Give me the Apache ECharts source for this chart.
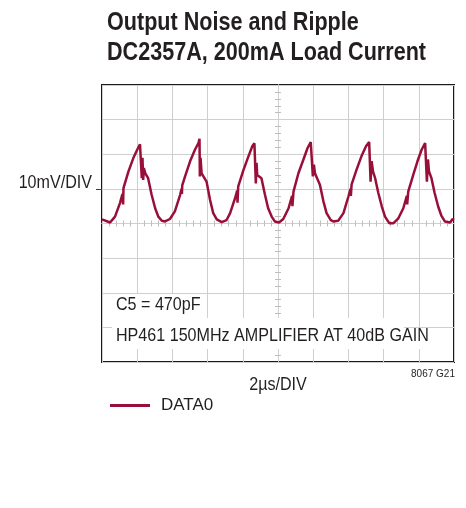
<!DOCTYPE html>
<html>
<head>
<meta charset="utf-8">
<script src="https://cdn.jsdelivr.net/npm/echarts@6/dist/echarts.min.js"></script>
<style>
html,body{margin:0;padding:0;background:#fff;}
#chart{width:466px;height:508px;}
</style>
</head>
<body>
<div id="chart"></div>
<script>
// time relative to screen centre, microseconds (2 µs/div)
var timeUs = [
  -10, -9.92, -9.54, -9.26, -8.98, -8.84, -8.80, -8.78, -8.50, -8.22, -8.00, -7.84, -7.76, -7.74, -7.70, -7.66, -7.62, -7.54, -7.38, -7.18, -6.98, -6.80, -6.60, -6.42, -6.14,
  -5.86, -5.56, -5.48, -5.46, -5.44, -5.28, -5.00, -4.72, -4.52, -4.46, -4.44, -4.40, -4.34, -4.24, -4.06, -3.86, -3.68, -3.48, -3.20,
  -2.92, -2.72, -2.44, -2.32, -2.30, -2.26, -1.96, -1.68, -1.46, -1.34, -1.28, -1.26, -1.22, -1.18, -1.10, -0.94, -0.74, -0.56, -0.36, -0.18,
  0.06, 0.30, 0.60, 0.80, 0.82, 0.88, 1.16, 1.44, 1.68, 1.86, 1.96, 1.98, 2.04, 2.10, 2.20, 2.38, 2.58, 2.76, 3.00, 3.14,
  3.42, 3.72, 4.00, 4.12, 4.14, 4.18, 4.46, 4.74, 5.00, 5.18, 5.24, 5.26, 5.32, 5.40, 5.52, 5.70, 5.90, 6.08, 6.32, 6.56,
  6.84, 7.12, 7.32, 7.34, 7.40, 7.68, 7.92, 8.16, 8.36, 8.44, 8.46, 8.52, 8.58, 8.72, 8.90, 9.10, 9.28, 9.48, 9.78, 9.92, 10
];
// output ripple, millivolts (10 mV/div)
var rippleMv = [
  1.2, 1.0, 0.3, 2.0, 5.9, 8.5, 5.5, 10.2, 15.0, 18.9, 21.3, 22.9, 22.7, 13.1, 19.0, 12.6, 16.0, 14.5, 13.1, 8.3, 4.4, 2.0, 0.8, 0.6, 1.3,
  3.5, 8.3, 10.0, 8.5, 11.0, 13.6, 17.9, 21.3, 23.2, 24.5, 13.6, 19.0, 14.5, 14.0, 12.1, 6.8, 3.0, 1.2, 0.4,
  1.0, 3.0, 7.3, 9.5, 6.0, 10.7, 15.5, 19.4, 22.3, 23.2, 23.0, 11.6, 17.5, 14.0, 14.5, 13.1, 8.3, 4.4, 2.0, 0.6,
  0.3, 1.3, 4.4, 8.0, 5.0, 9.2, 14.5, 18.4, 21.8, 23.5, 24.0, 13.6, 17.0, 14.5, 14.0, 11.2, 6.4, 3.0, 1.0, 0.6,
  0.8, 3.0, 7.8, 10.0, 8.0, 11.2, 15.5, 19.4, 22.3, 23.5, 23.8, 12.1, 18.0, 15.0, 13.1, 8.8, 4.9, 2.0, 0.1, 0.1,
  1.5, 4.4, 8.0, 5.5, 9.2, 14.0, 17.9, 21.3, 23.2, 23.2, 12.1, 18.5, 15.0, 13.1, 8.8, 4.9, 2.3, 0.6, 0.3, 1.3, 1.0
];
var seriesName = 'DATA0';
var titleLines = ['Output Noise and Ripple', 'DC2357A, 200mA Load Current'];
var yUnitLabel = '10mV/DIV';
var yUnitAt = [10];
var xUnitLabel = '2\u00b5s/DIV';
var noteLines = ['C5 = 470pF', 'HP461 150MHz AMPLIFIER AT 40dB GAIN'];
var figId = '8067 G21';

var FONT = "'Liberation Sans',Arial,Helvetica,sans-serif";
var TEXTC = '#231f20';
var TRACE = '#98103a';
var GRIDC = '#cfcfcf';
var SX = 0.87; // horizontal condensing to mimic Helvetica Condensed

var data = timeUs.map(function (t, i) { return [t, rippleMv[i]]; });

var chart = echarts.init(document.getElementById('chart'), null, {renderer: 'canvas'});

function xAx(pos, split) {
  return {
    type: 'value', min: -10, max: 10, interval: 2, position: pos,
    axisLine: {show: true, onZero: true, lineStyle: {color: GRIDC, width: 1}},
    axisTick: {show: false},
    minorTick: {show: true, splitNumber: 5, length: 3, lineStyle: {color: '#bdbdbd', width: 1}},
    axisLabel: {show: false},
    splitLine: {show: split, lineStyle: {color: GRIDC, width: 1}},
    minorSplitLine: {show: false}
  };
}
function yAx(pos, split) {
  return {
    type: 'value', min: -40, max: 40, interval: 10, position: pos,
    axisLine: {show: true, onZero: true, lineStyle: {color: GRIDC, width: 1}},
    axisTick: {show: false},
    minorTick: {show: true, splitNumber: 5, length: 3, lineStyle: {color: '#bdbdbd', width: 1}},
    axisLabel: {show: false},
    splitLine: {show: split, lineStyle: {color: GRIDC, width: 1}},
    minorSplitLine: {show: false}
  };
}

var yTickAxis = {
  type: 'value', min: -40, max: 40, interval: 10, position: 'left',
  axisLine: {show: false, onZero: false},
  axisTick: {show: true, customValues: yUnitAt, length: 6, lineStyle: {color: TRACE, width: 1}},
  axisLabel: {show: false},
  splitLine: {show: false}
};

function txt(text, x, y, size, opts) {
  opts = opts || {};
  return {
    type: 'text', x: x, y: y, scaleX: opts.sx || SX, z: 20,
    style: {
      text: text, fill: TEXTC,
      font: (opts.bold ? 'bold ' : '') + size + 'px ' + FONT,
      align: opts.align || 'left', verticalAlign: 'middle'
    }
  };
}
function box(x, y, w, h) {
  return {type: 'rect', shape: {x: x, y: y, width: w, height: h}, style: {fill: '#fff'}, z: 15, silent: true};
}

var option = {
  animation: false,
  backgroundColor: '#fff',
  legend: {
    data: [seriesName], left: 105, top: 392, icon: 'rect', itemWidth: 40, itemHeight: 3,
    textStyle: {fontFamily: FONT, fontSize: 17, color: TEXTC, padding: [0, 0, 0, 6]}
  },
  grid: {left: 102, right: 12, top: 85, bottom: 146, show: true, borderColor: '#1a1a1a', borderWidth: 2, backgroundColor: 'transparent', containLabel: false},
  xAxis: [xAx('bottom', true), xAx('top', false)],
  yAxis: [yAx('left', true), yAx('right', false), yTickAxis],
  series: [{
    name: seriesName, type: 'line', data: data, xAxisIndex: 0, yAxisIndex: 0,
    showSymbol: false, symbol: 'none',
    lineStyle: {color: TRACE, width: 2.5}, itemStyle: {color: TRACE},
    z: 5
  }]
};
chart.setOption(option);

// texts placed relative to the chart's own axes
var yLab = chart.convertToPixel({yAxisIndex: 0}, yUnitAt[0]);
var xMid = chart.convertToPixel({xAxisIndex: 0}, 0);
chart.setOption({
  graphic: [
    txt(titleLines[0], 107, 23, 26, {bold: true, sx: 0.83}),
    txt(titleLines[1], 107, 52.5, 26, {bold: true, sx: 0.83}),
    txt(yUnitLabel, 92, yLab - 6, 18.5, {align: 'right'}),
    box(112, 294, 94, 24),
    box(112, 318, 292, 31),
    box(404, 328, 32, 21),
    txt(noteLines[0], 116, 305, 18.5),
    txt(noteLines[1], 116, 336, 18.5),
    txt(xUnitLabel, xMid, 384.5, 18.5, {align: 'center'}),
    txt(figId, 455, 374, 11.5, {align: 'right'})
  ]
});
</script>
</body>
</html>
